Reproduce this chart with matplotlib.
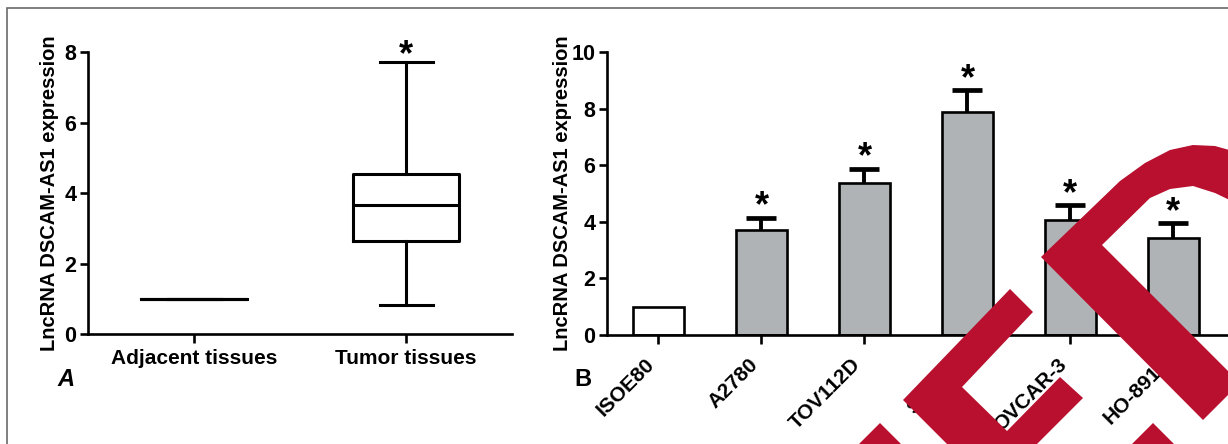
import numpy as np
import matplotlib.pyplot as plt
from matplotlib.patches import Polygon, Rectangle

plt.rcParams['font.family'] = ['Liberation Sans', 'DejaVu Sans']
plt.rcParams['font.weight'] = 'bold'
plt.rcParams['axes.labelweight'] = 'bold'

# panel A: box plot values
groups_a = ['Adjacent tissues', 'Tumor tissues']
adjacent_level = 1.0
tumor_q1, tumor_med, tumor_q3 = 2.65, 3.65, 4.55
tumor_low, tumor_high = 0.82, 7.72

# panel B: cell lines
cell_lines = ['ISOE80', 'A2780', 'TOV112D', 'SKOV3', 'OVCAR-3', 'HO-8910']
expression = [1.0, 3.72, 5.38, 7.87, 4.05, 3.42]
err_up = [0.0, 0.43, 0.50, 0.78, 0.55, 0.52]
starred = [False, True, True, True, True, True]

W, H = 1228, 444
fig = plt.figure(figsize=(W / 100, H / 100), dpi=100)


def px_axes(x0, y0, x1, y1):
    # pixel box (y measured from top) -> figure axes
    return fig.add_axes([x0 / W, 1 - y1 / H, (x1 - x0) / W, (y1 - y0) / H])


def style(ax):
    ax.spines[['top', 'right']].set_visible(False)
    ax.spines[['left', 'bottom']].set_linewidth(1.9)
    ax.tick_params(width=1.9, length=6, labelsize=15.5, pad=2.5)
    ax.tick_params(axis='x', length=6.5, labelsize=15)


# ---- A ----
axA = px_axes(88, 52, 512, 334)
style(axA)
stats = [
    dict(med=adjacent_level, q1=adjacent_level, q3=adjacent_level,
         whislo=adjacent_level, whishi=adjacent_level, fliers=[]),
    dict(med=tumor_med, q1=tumor_q1, q3=tumor_q3,
         whislo=tumor_low, whishi=tumor_high, fliers=[]),
]
lp = dict(color='black', linewidth=2.2)
axA.bxp(stats, positions=[0, 1], widths=0.5, capwidths=0.25, showfliers=False,
        boxprops=lp, medianprops=lp, whiskerprops=lp, capprops=lp)
axA.set_xlim(-0.5, 1.5)
axA.set_ylim(0, 8)
axA.set_yticks([0, 2, 4, 6, 8])
axA.set_xticks([0, 1])
axA.set_xticklabels(groups_a)
axA.tick_params(axis='x', pad=4)
axA.annotate('*', (1, tumor_high), xytext=(0, -8), textcoords='offset points',
             ha='center', va='bottom', fontsize=26, annotation_clip=False)
axA.set_ylabel('LncRNA DSCAM-AS1 expression', fontsize=14.5)
axA.yaxis.set_label_coords(-0.068, 0.5)

# ---- B ----
axB = px_axes(607, 52, 1228, 335)
style(axB)
x = np.arange(len(cell_lines))
colors = ['white'] + ['#afb3b5'] * (len(cell_lines) - 1)
axB.bar(x, expression, width=0.5, color=colors, edgecolor='black', linewidth=1.9, zorder=2)
tops = np.array(expression) + np.array(err_up)
for xi, v, t, s in zip(x, expression, tops, starred):
    if not s:
        continue
    axB.plot([xi, xi], [v, t], color='black', lw=2.8, zorder=1, solid_capstyle='butt')
    axB.plot([xi], [t], marker='_', ms=21, mew=3.4, color='black', zorder=3)
    axB.annotate('*', (xi, t), xytext=(0, -5), textcoords='offset points',
                 ha='center', va='bottom', fontsize=26, annotation_clip=False)
axB.set_xlim(-0.5, 5.53)
axB.set_ylim(0, 10)
axB.set_yticks(range(0, 11, 2))
axB.set_xticks(x)
axB.set_xticklabels(cell_lines, rotation=45, ha='right', va='top')
axB.tick_params(axis='x', pad=7.5)
axB.set_ylabel('LncRNA DSCAM-AS1 expression', fontsize=14.5)
axB.yaxis.set_label_coords(-0.057, 0.5)

fig.text(57 / W, 1 - 386 / H, 'A', fontsize=17, style='italic', va='baseline')
fig.text(574 / W, 1 - 386 / H, 'B', fontsize=17, va='baseline')

# thin page frame
fig.add_artist(Rectangle((7 / W, -0.1), 1.2, 1 - 8 / H + 0.1, transform=fig.transFigure,
                         fill=False, edgecolor='#6a6a6a', linewidth=1.2))

# red overlay marks (pixel coords, y from top)
red = '#b8102e'
marks = [
    [(1041, 257), (1120, 181), (1145, 163), (1170, 150), (1193, 145), (1215, 146),
     (1240, 153), (1240, 205), (1215, 193), (1193, 186), (1170, 189), (1150, 198),
     (1102, 245), (1240, 383), (1203, 420)],
    [(1010, 289), (903, 400), (953, 450), (1031, 450), (1083, 398), (1060, 377),
     (1007, 431), (962, 387), (1033, 312)],
    [(880, 423), (853, 450), (907, 450)],
    [(1153, 423), (1126, 450), (1180, 450)],
]
for pts in marks:
    xy = [(px / W, 1 - py / H) for px, py in pts]
    fig.add_artist(Polygon(xy, closed=True, transform=fig.transFigure,
                           facecolor=red, edgecolor='none', zorder=5))

fig.savefig('out.png', dpi=100)
